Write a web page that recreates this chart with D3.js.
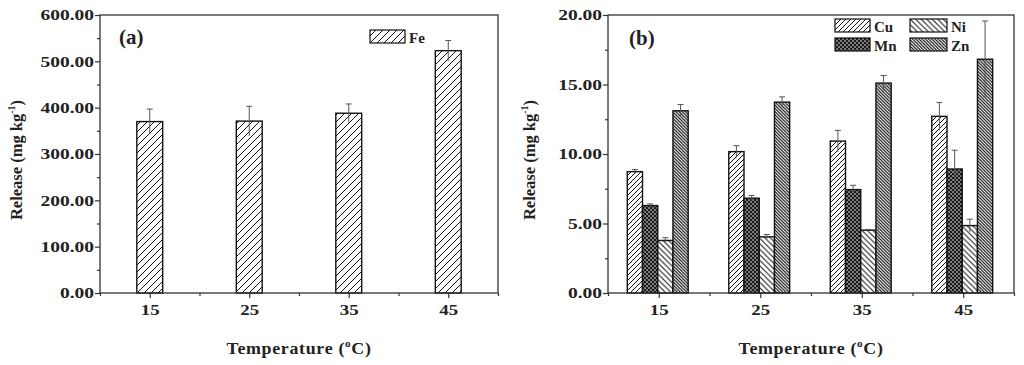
<!DOCTYPE html>
<html>
<head>
<meta charset="utf-8">
<script src="https://cdn.jsdelivr.net/npm/d3@7"></script>
<style>
  body { margin: 0; background: #fff; }
  text { font-family: "Liberation Serif", "Times New Roman", serif; font-weight: bold; fill: #222; }
</style>
</head>
<body>
<div class="chart"></div>
<script>
// data
var temps = [15, 25, 35, 45];
var feVals = [370, 371, 388, 523];
var feErr = [27, 32, 20, 22];
var cuVals = [8.73, 10.17, 10.93, 12.71];
var cuErr = [0.15, 0.43, 0.77, 1.0];
var mnVals = [6.29, 6.82, 7.44, 8.92];
var mnErr = [0.12, 0.19, 0.31, 1.35];
var niVals = [3.78, 4.04, 4.52, 4.85];
var niErr = [0.2, 0.17, 0.05, 0.46];
var znVals = [13.11, 13.73, 15.10, 16.82];
var znErr = [0.45, 0.38, 0.55, 2.75];
var yTicksA = [0, 100, 200, 300, 400, 500, 600];
var yTicksB = [0, 5, 10, 15, 20];

var svgWidth = 1024;
var svgHeight = 365;
var stretch = 1.3; // tick labels look horizontally stretched

var svg = d3.select(".chart")
  .append("svg")
  .attr("width", svgWidth)
  .attr("height", svgHeight);

svg.append("rect").attr("width", svgWidth).attr("height", svgHeight).attr("fill", "#fff");

// hatch patterns
var defs = svg.append("defs");
function hatch(id, size, dir, sw) {
  var p = defs.append("pattern")
    .attr("id", id)
    .attr("patternUnits", "userSpaceOnUse")
    .attr("width", size)
    .attr("height", size);
  p.append("rect").attr("width", size).attr("height", size).attr("fill", "#fff");
  var s = size;
  var d;
  if (dir === "/") d = `M0,${s} L${s},0 M${-1},1 L1,${-1} M${s - 1},${s + 1} L${s + 1},${s - 1}`;
  else d = `M0,0 L${s},${s} M${-1},${s - 1} L1,${s + 1} M${s - 1},${-1} L${s + 1},1`;
  p.append("path").attr("d", d).attr("stroke", "#111").attr("stroke-width", sw).attr("fill", "none");
}
hatch("fe", 7, "/", 1);
hatch("cu", 5, "/", 1);
hatch("ni", 5.5, "\\", 1);
hatch("zn", 3.2, "\\", 1.2);

// Mn: dark checker
var mnP = defs.append("pattern")
  .attr("id", "mn")
  .attr("patternUnits", "userSpaceOnUse")
  .attr("width", 4)
  .attr("height", 4);
mnP.append("rect").attr("width", 4).attr("height", 4).attr("fill", "#1a1a1a");
mnP.append("rect").attr("x", 0.4).attr("y", 0.4).attr("width", 1.3).attr("height", 1.3).attr("fill", "#fff");
mnP.append("rect").attr("x", 2.4).attr("y", 2.4).attr("width", 1.3).attr("height", 1.3).attr("fill", "#fff");

function drawFrame(g, x, y, w, h, yMajor, yMinor) {
  var bottom = d3.axisBottom(x).tickValues(temps).tickSize(5).tickPadding(7).tickSizeOuter(0);
  var bottomMinor = d3.axisBottom(x).tickValues([10, 20, 30, 40, 50]).tickSize(3).tickFormat("").tickSizeOuter(0);
  var left = d3.axisLeft(y).tickValues(yMajor).tickSize(5).tickFormat(d3.format(".2f")).tickSizeOuter(0);
  var leftMinor = d3.axisLeft(y).tickValues(yMinor).tickSize(3).tickFormat("").tickSizeOuter(0);

  var gx = g.append("g").attr("transform", `translate(0, ${h})`).call(bottom);
  g.append("g").attr("transform", `translate(0, ${h})`).call(bottomMinor);
  var gy = g.append("g").call(left);
  g.append("g").call(leftMinor);

  g.selectAll(".domain").remove();
  g.selectAll(".tick line").attr("stroke", "#333").attr("stroke-width", 1.2);

  gx.selectAll("text")
    .attr("font-size", 14.5)
    .attr("fill", "#222")
    .attr("transform", `scale(${stretch},1)`);
  gy.selectAll("text")
    .attr("font-size", 15)
    .attr("fill", "#222")
    .attr("x", -6 / stretch)
    .attr("transform", `scale(${stretch},1)`);

  g.append("rect")
    .attr("width", w)
    .attr("height", h)
    .attr("fill", "none")
    .attr("stroke", "#333")
    .attr("stroke-width", 1.3);
}

function drawBars(g, x, y, vals, errs, off0, off1, fillId) {
  g.selectAll(null)
    .data(temps)
    .enter()
    .append("rect")
    .attr("x", d => x(d + off0))
    .attr("width", d => x(d + off1) - x(d + off0))
    .attr("y", (d, i) => y(vals[i]))
    .attr("height", (d, i) => y(0) - y(vals[i]))
    .attr("fill", `url(#${fillId})`)
    .attr("stroke", "#111")
    .attr("stroke-width", 1.4);

  var mid = (off0 + off1) / 2;
  var eb = g.selectAll(null).data(temps).enter().append("g");
  eb.append("line")
    .attr("x1", d => x(d + mid))
    .attr("x2", d => x(d + mid))
    .attr("y1", (d, i) => y(vals[i] - errs[i]))
    .attr("y2", (d, i) => y(vals[i] + errs[i]))
    .attr("stroke", "#555")
    .attr("stroke-width", 1);
  eb.append("line")
    .attr("x1", d => x(d + mid) - 3)
    .attr("x2", d => x(d + mid) + 3)
    .attr("y1", (d, i) => y(vals[i] + errs[i]))
    .attr("y2", (d, i) => y(vals[i] + errs[i]))
    .attr("stroke", "#555")
    .attr("stroke-width", 1);
}

function yTitle(xPos, yPos) {
  var t = svg.append("text")
    .attr("transform", `translate(${xPos}, ${yPos}) rotate(-90)`)
    .attr("text-anchor", "middle")
    .attr("font-size", 16.5);
  t.append("tspan").text("Release (mg kg");
  t.append("tspan").attr("font-size", 10).attr("dy", -7).text("-1");
  t.append("tspan").attr("dy", 7).text(")");
}

function xTitle(xPos, yPos) {
  var t = svg.append("text")
    .attr("transform", `translate(${xPos}, ${yPos}) scale(1.12,1)`)
    .attr("text-anchor", "middle")
    .attr("font-size", 16)
    .attr("letter-spacing", 0.6);
  t.append("tspan").text("Temperature (");
  t.append("tspan").attr("font-size", 10).attr("dy", -7).text("o");
  t.append("tspan").attr("dy", 7).text("C)");
}

function legendItem(bx, by, fillId, label, w) {
  svg.append("rect")
    .attr("x", bx).attr("y", by)
    .attr("width", w).attr("height", 13)
    .attr("fill", `url(#${fillId})`)
    .attr("stroke", "#111")
    .attr("stroke-width", 1.2);
  svg.append("text")
    .attr("x", bx + w + 4)
    .attr("y", by + 12.5)
    .attr("font-size", 15)
    .text(label);
}

// ---------------- panel (a) ----------------
var mA = { left: 100, top: 15, width: 398, height: 278 };
var gA = svg.append("g").attr("transform", `translate(${mA.left}, ${mA.top})`);
var xA = d3.scaleLinear().domain([10, 50]).range([0, mA.width]);
var yA = d3.scaleLinear().domain([0, 600]).range([mA.height, 0]);

drawBars(gA, xA, yA, feVals, feErr, -1.3, 1.3, "fe");
drawFrame(gA, xA, yA, mA.width, mA.height, yTicksA, [50, 150, 250, 350, 450, 550]);

gA.append("text").attr("x", 19).attr("y", 29).attr("font-size", 21).text("(a)");
legendItem(370, 30, "fe", "Fe", 35);
yTitle(22, 160);
xTitle(299, 354);

// ---------------- panel (b) ----------------
var mB = { left: 608, top: 15, width: 406, height: 278 };
var gB = svg.append("g").attr("transform", `translate(${mB.left}, ${mB.top})`);
var xB = d3.scaleLinear().domain([10, 50]).range([0, mB.width]);
var yB = d3.scaleLinear().domain([0, 20]).range([mB.height, 0]);

drawBars(gB, xB, yB, cuVals, cuErr, -3.1, -1.6, "cu");
drawBars(gB, xB, yB, mnVals, mnErr, -1.6, -0.1, "mn");
drawBars(gB, xB, yB, niVals, niErr, -0.1, 1.4, "ni");
drawBars(gB, xB, yB, znVals, znErr, 1.4, 2.9, "zn");
drawFrame(gB, xB, yB, mB.width, mB.height, yTicksB, [2.5, 7.5, 12.5, 17.5]);

gB.append("text").attr("x", 21).attr("y", 30).attr("font-size", 21).text("(b)");
legendItem(835, 19, "cu", "Cu", 35);
legendItem(835, 38, "mn", "Mn", 35);
legendItem(910, 19, "ni", "Ni", 37);
legendItem(910, 38, "zn", "Zn", 37);
yTitle(535, 160);
xTitle(811, 354);
</script>
</body>
</html>
